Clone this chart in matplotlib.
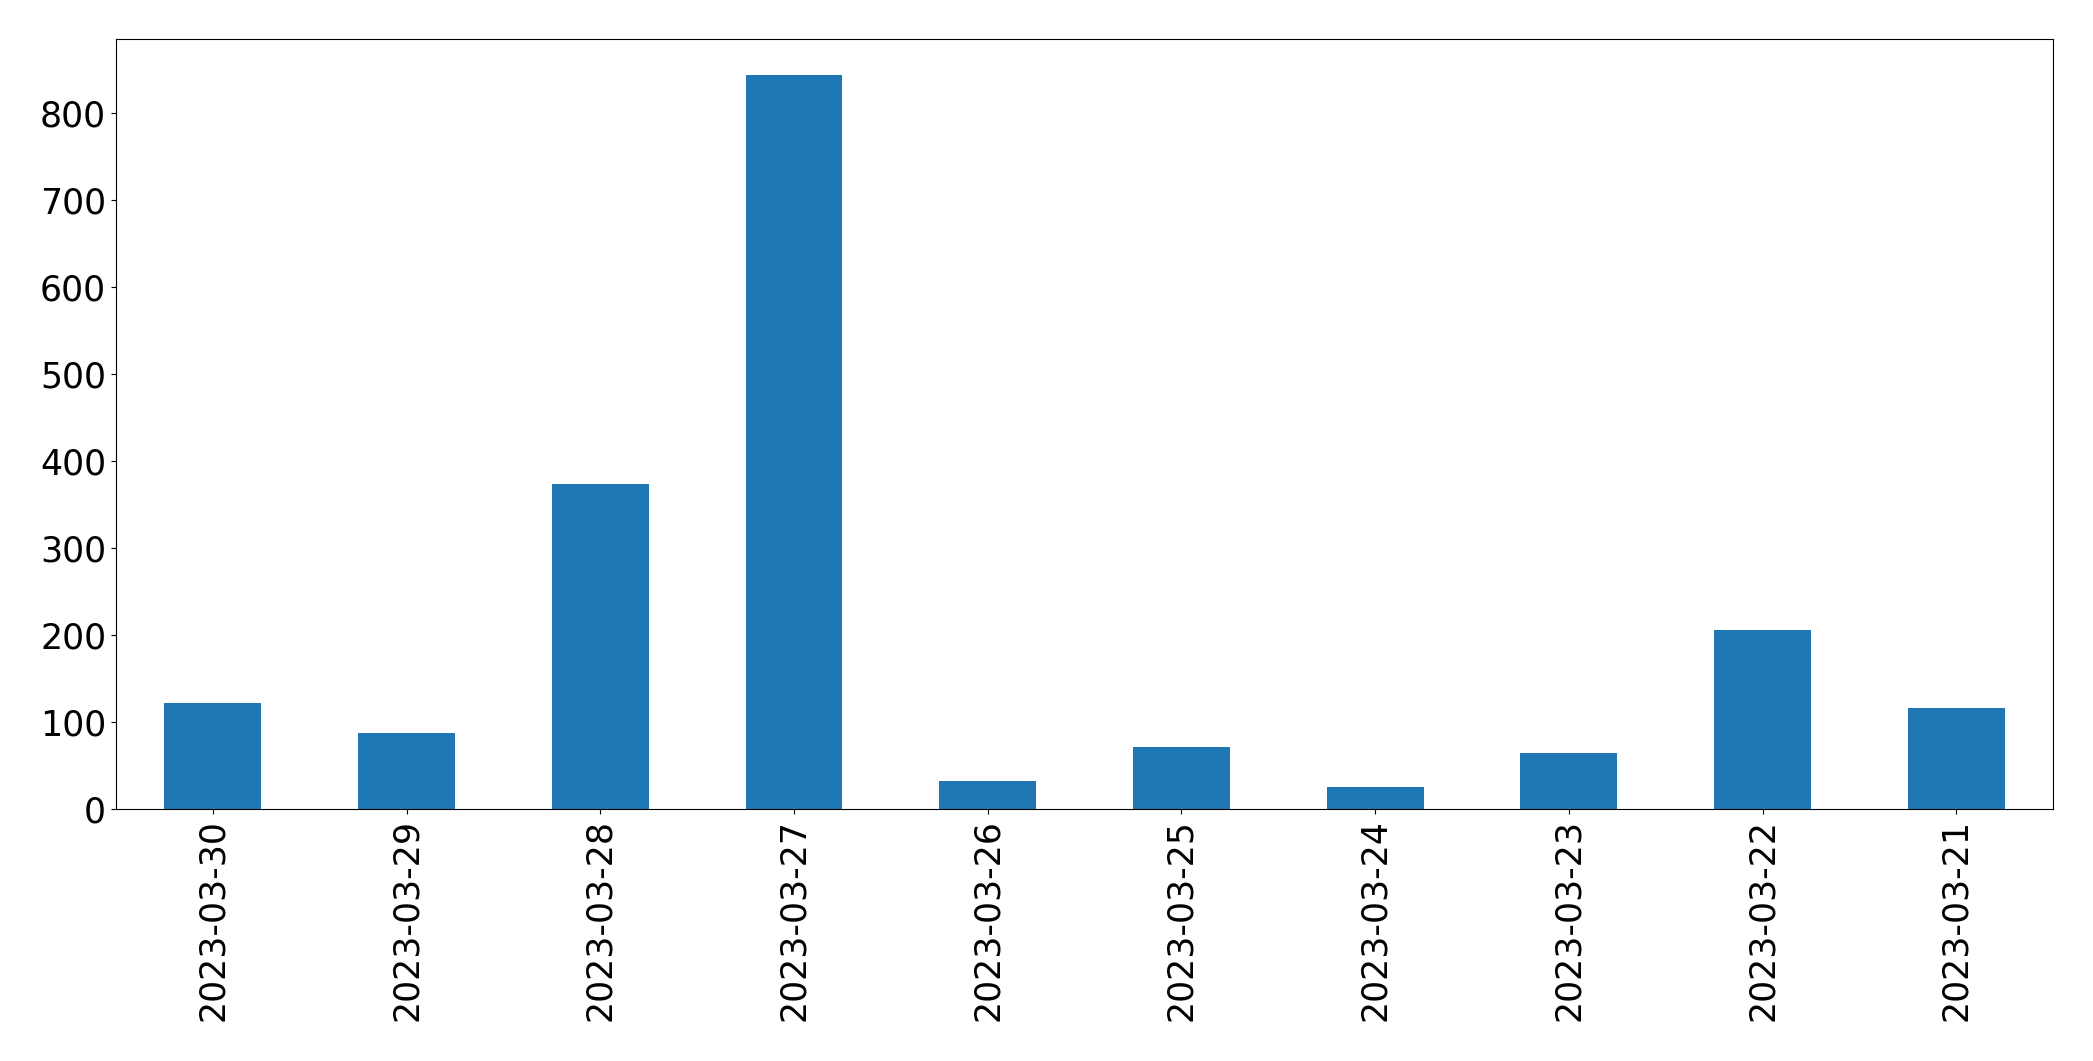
import matplotlib
matplotlib.use("Agg")

import numpy as np
import matplotlib.pyplot as plt

# ---------------------------
# DATA
# ---------------------------

DATES = ["2023-03-30", "2023-03-29", "2023-03-28", "2023-03-27", "2023-03-26",
         "2023-03-25", "2023-03-24", "2023-03-23", "2023-03-22", "2023-03-21"]
COUNTS = [122, 87, 373, 843, 32, 71, 25, 64, 206, 116]

# ---------------------------
# PLOT
# ---------------------------

fig, ax = plt.subplots(figsize=(20.93, 10.61), dpi=100)

x = np.arange(len(DATES))
ax.bar(x, COUNTS, width=0.5, color="#1f77b4")

ax.set_xlim(-0.5, len(DATES) - 0.5)
ax.set_xticks(x)
ax.set_xticklabels(DATES, rotation=90)
ax.tick_params(axis="both", labelsize=25)

fig.subplots_adjust(left=0.0554, right=0.981, top=0.9635, bottom=0.2375)
fig.savefig("out.png", dpi=100)
